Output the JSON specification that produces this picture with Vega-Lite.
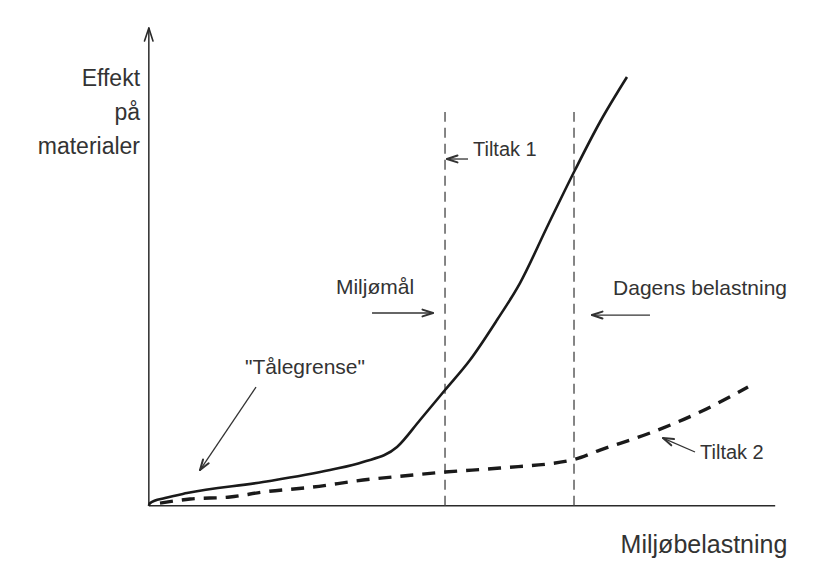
{
  "$schema": "https://vega.github.io/schema/vega-lite/v6.json",
  "width": 831,
  "height": 561,
  "autosize": {"type": "fit", "contains": "padding"},
  "padding": 0,
  "background": "white",
  "config": {"view": {"stroke": null}},
  "datasets": {
    "axes": [
      {"x": 0, "y": 0, "x2": 0, "y2": 103.9},
      {"x": 0, "y": 0, "x2": 101, "y2": 0}
    ],
    "axisHead": [
      {"x": 0, "y": 103.9, "x2": -0.7, "y2": 101.08},
      {"x": 0, "y": 103.9, "x2": 0.67, "y2": 101.08}
    ],
    "guides": [
      {"x": 47.76, "y": 0, "x2": 47.76, "y2": 85.64},
      {"x": 68.56, "y": 0, "x2": 68.56, "y2": 85.64}
    ],
    "solid": [
      {"x": 0, "y": 0},
      {"x": 0.19, "y": 0.6},
      {"x": 2.61, "y": 1.69},
      {"x": 6.15, "y": 2.78},
      {"x": 18.41, "y": 5.17},
      {"x": 29.21, "y": 7.78},
      {"x": 34.53, "y": 9.52},
      {"x": 40.02, "y": 12.78},
      {"x": 43.73, "y": 18.66},
      {"x": 47.76, "y": 25.18},
      {"x": 51.79, "y": 31.71},
      {"x": 56.14, "y": 40.4},
      {"x": 59.85, "y": 48.45},
      {"x": 64.37, "y": 61.07},
      {"x": 68.72, "y": 73.03},
      {"x": 72.75, "y": 83.47},
      {"x": 77.1, "y": 93.25}
    ],
    "dashed": [
      {"x": 1.8, "y": 0.6},
      {"x": 6.64, "y": 1.47},
      {"x": 13.09, "y": 1.91},
      {"x": 18.41, "y": 3.0},
      {"x": 26.47, "y": 4.08},
      {"x": 34.53, "y": 5.61},
      {"x": 42.6, "y": 6.69},
      {"x": 47.76, "y": 7.35},
      {"x": 56.63, "y": 8.22},
      {"x": 68.24, "y": 9.96},
      {"x": 72.75, "y": 12.13},
      {"x": 80.81, "y": 15.83},
      {"x": 88.88, "y": 20.4},
      {"x": 96.62, "y": 25.83}
    ],
    "arrows": [
      {"name": "Tålegrense", "x": 17.28, "y": 25.83, "x2": 8.25, "y2": 7.78},
      {"name": "Miljømål", "x": 35.99, "y": 41.93, "x2": 45.82, "y2": 41.93},
      {"name": "Dagens", "x": 80.81, "y": 41.49, "x2": 71.46, "y2": 41.49},
      {"name": "Tiltak 1", "x": 51.47, "y": 75.42, "x2": 48.08, "y2": 75.42},
      {"name": "Tiltak 2", "x": 88.07, "y": 11.7, "x2": 82.91, "y2": 14.74}
    ],
    "heads": [
      {"name": "Tålegrense", "x": 8.25, "y": 7.78, "x2": 9.65, "y2": 9.25},
      {"name": "Tålegrense", "x": 8.25, "y": 7.78, "x2": 8.74, "y2": 10.08},
      {"name": "Miljømål", "x": 45.82, "y": 41.93, "x2": 44.13, "y2": 42.67},
      {"name": "Miljømål", "x": 45.82, "y": 41.93, "x2": 44.13, "y2": 41.19},
      {"name": "Dagens", "x": 71.46, "y": 41.49, "x2": 73.15, "y2": 42.23},
      {"name": "Dagens", "x": 71.46, "y": 41.49, "x2": 73.15, "y2": 40.75},
      {"name": "Tiltak 1", "x": 48.08, "y": 75.42, "x2": 49.77, "y2": 76.18},
      {"name": "Tiltak 1", "x": 48.08, "y": 75.42, "x2": 49.77, "y2": 74.68},
      {"name": "Tiltak 2", "x": 82.91, "y": 14.74, "x2": 84.24, "y2": 13.15},
      {"name": "Tiltak 2", "x": 82.91, "y": 14.74, "x2": 84.68, "y2": 14.51}
    ],
    "centerLabels": [
      {"label": "\"Tålegrense\"", "x": 25.18, "y": 29.97},
      {"label": "Miljømål", "x": 36.47, "y": 47.36},
      {"label": "Dagens belastning", "x": 88.88, "y": 47.15}
    ],
    "leftLabels": [
      {"label": "Tiltak 1", "x": 52.27, "y": 77.38},
      {"label": "Tiltak 2", "x": 88.88, "y": 11.48}
    ],
    "yTitle": [
      {"label": "Effekt", "x": -1.42, "y": 91.3},
      {"label": "på", "x": -1.42, "y": 83.9},
      {"label": "materialer", "x": -1.42, "y": 76.51}
    ],
    "xTitle": [
      {"label": "Miljøbelastning", "x": 89.52, "y": -8.53}
    ]
  },
  "encoding": {
    "x": {"field": "x", "type": "quantitative", "scale": {"domain": [-24, 110], "nice": false, "zero": false}, "axis": null},
    "y": {"field": "y", "type": "quantitative", "scale": {"domain": [-12, 110], "nice": false, "zero": false}, "axis": null}
  },
  "layer": [
    {
      "data": {"name": "axes"},
      "mark": {"type": "rule", "color": "#2a2a2a", "strokeWidth": 1.5},
      "encoding": {"x2": {"field": "x2"}, "y2": {"field": "y2"}}
    },
    {
      "data": {"name": "axisHead"},
      "mark": {"type": "rule", "color": "#2a2a2a", "strokeWidth": 1.6, "strokeCap": "round"},
      "encoding": {"x2": {"field": "x2"}, "y2": {"field": "y2"}}
    },
    {
      "data": {"name": "guides"},
      "mark": {"type": "rule", "color": "#444444", "strokeWidth": 1.3, "strokeDash": [10, 6]},
      "encoding": {"x2": {"field": "x2"}, "y2": {"field": "y2"}}
    },
    {
      "data": {"name": "solid"},
      "mark": {"type": "line", "color": "#1a1a1a", "strokeWidth": 2.6, "interpolate": "monotone"}
    },
    {
      "data": {"name": "dashed"},
      "mark": {"type": "line", "color": "#1a1a1a", "strokeWidth": 3.4, "strokeDash": [13, 9], "interpolate": "monotone"}
    },
    {
      "data": {"name": "arrows"},
      "mark": {"type": "rule", "color": "#333333", "strokeWidth": 1.3},
      "encoding": {"x2": {"field": "x2"}, "y2": {"field": "y2"}}
    },
    {
      "data": {"name": "heads"},
      "mark": {"type": "rule", "color": "#333333", "strokeWidth": 2, "strokeCap": "round"},
      "encoding": {"x2": {"field": "x2"}, "y2": {"field": "y2"}}
    },
    {
      "data": {"name": "centerLabels"},
      "mark": {"type": "text", "font": "Liberation Sans", "fontSize": 21, "color": "#333333", "align": "center", "baseline": "middle"},
      "encoding": {"text": {"field": "label"}}
    },
    {
      "data": {"name": "leftLabels"},
      "mark": {"type": "text", "font": "Liberation Sans", "fontSize": 20, "color": "#333333", "align": "left", "baseline": "middle"},
      "encoding": {"text": {"field": "label"}}
    },
    {
      "data": {"name": "yTitle"},
      "mark": {"type": "text", "font": "Liberation Sans", "fontSize": 23, "color": "#333333", "align": "right", "baseline": "alphabetic"},
      "encoding": {"text": {"field": "label"}}
    },
    {
      "data": {"name": "xTitle"},
      "mark": {"type": "text", "font": "Liberation Sans", "fontSize": 25, "color": "#333333", "align": "center", "baseline": "middle"},
      "encoding": {"text": {"field": "label"}}
    }
  ]
}
